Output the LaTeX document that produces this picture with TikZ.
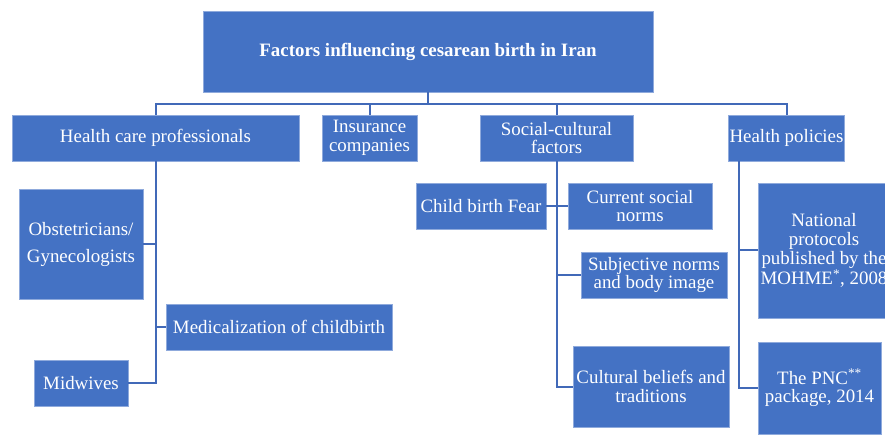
\documentclass[tikz,border=0pt]{standalone}
\usepackage{fontspec}
\setmainfont{Liberation Serif}
\definecolor{boxblue}{HTML}{4472C4}
\definecolor{edgeblue}{HTML}{8FAADC}
\definecolor{lineblue}{HTML}{4169B8}

\begin{document}
\begin{tikzpicture}[x=1pt, y=-1pt,
  box/.style={fill=boxblue, draw=edgeblue, line width=0.8pt, text=white, align=center, inner sep=1pt, font=\fontsize{18.9}{18.7}\selectfont},
  link/.style={draw=lineblue, line width=2pt}]
\useasboundingbox (0,0) rectangle (885,435);
\clip (0,0) rectangle (885,435);
\node[box, minimum width=450pt, minimum height=81pt, font=\bfseries\fontsize{18.9}{18.7}\selectfont] (root) at (428,51.5) {Factors influencing cesarean birth in Iran};
\node[box, minimum width=287pt, minimum height=46pt] (hcp) at (155.5,138) {Health care professionals};
\node[box, minimum width=95pt, minimum height=46pt] (ins) at (369.5,138) {Insurance\\companies};
\node[box, minimum width=153pt, minimum height=46pt] (soc) at (556.5,138) {Social-cultural\\factors};
\node[box, minimum width=115pt, minimum height=46pt] (pol) at (786.5,138) {Health policies};
\node[box, minimum width=124pt, minimum height=110pt, font=\fontsize{18.9}{27}\selectfont] (obs) at (81,244) {Obstetricians/\\Gynecologists};
\node[box, minimum width=226pt, minimum height=46pt] (med) at (279,327) {Medicalization of childbirth};
\node[box, minimum width=94pt, minimum height=46pt] (mid) at (81,383) {Midwives};
\node[box, minimum width=130pt, minimum height=46pt] (fear) at (481,206) {Child birth Fear};
\node[box, minimum width=144pt, minimum height=46pt] (cur) at (640,206) {Current social\\norms};
\node[box, minimum width=146pt, minimum height=46pt] (subj) at (654,275) {Subjective norms\\and body image};
\node[box, minimum width=156pt, minimum height=81pt] (cult) at (651,386.5) {Cultural beliefs and\\traditions};
\node[box, minimum width=132pt, minimum height=135pt] (nat) at (824,250.5) {National\\protocols\\published by the\\MOHME\textsuperscript{*}, 2008};
\node[box, minimum width=123pt, minimum height=92pt] (pnc) at (819.5,388) {The PNC\textsuperscript{**}\\package, 2014};
\coordinate (polspine) at ([xshift=11pt]pol.south west);
\foreach \c in {hcp,ins,soc,pol}
  \draw[link] (root.south) -- ++(0,12) -| (\c.north);
\foreach \c in {obs,mid}
  \draw[link] (hcp.south) |- (\c.east);
\draw[link] (hcp.south) |- (med.west);
\draw[link] (soc.south) |- (fear.east);
\foreach \c in {cur,subj,cult}
  \draw[link] (soc.south) |- (\c.west);
\foreach \c in {nat,pnc}
  \draw[link] (polspine) |- (\c.west);
\end{tikzpicture}
\end{document}
